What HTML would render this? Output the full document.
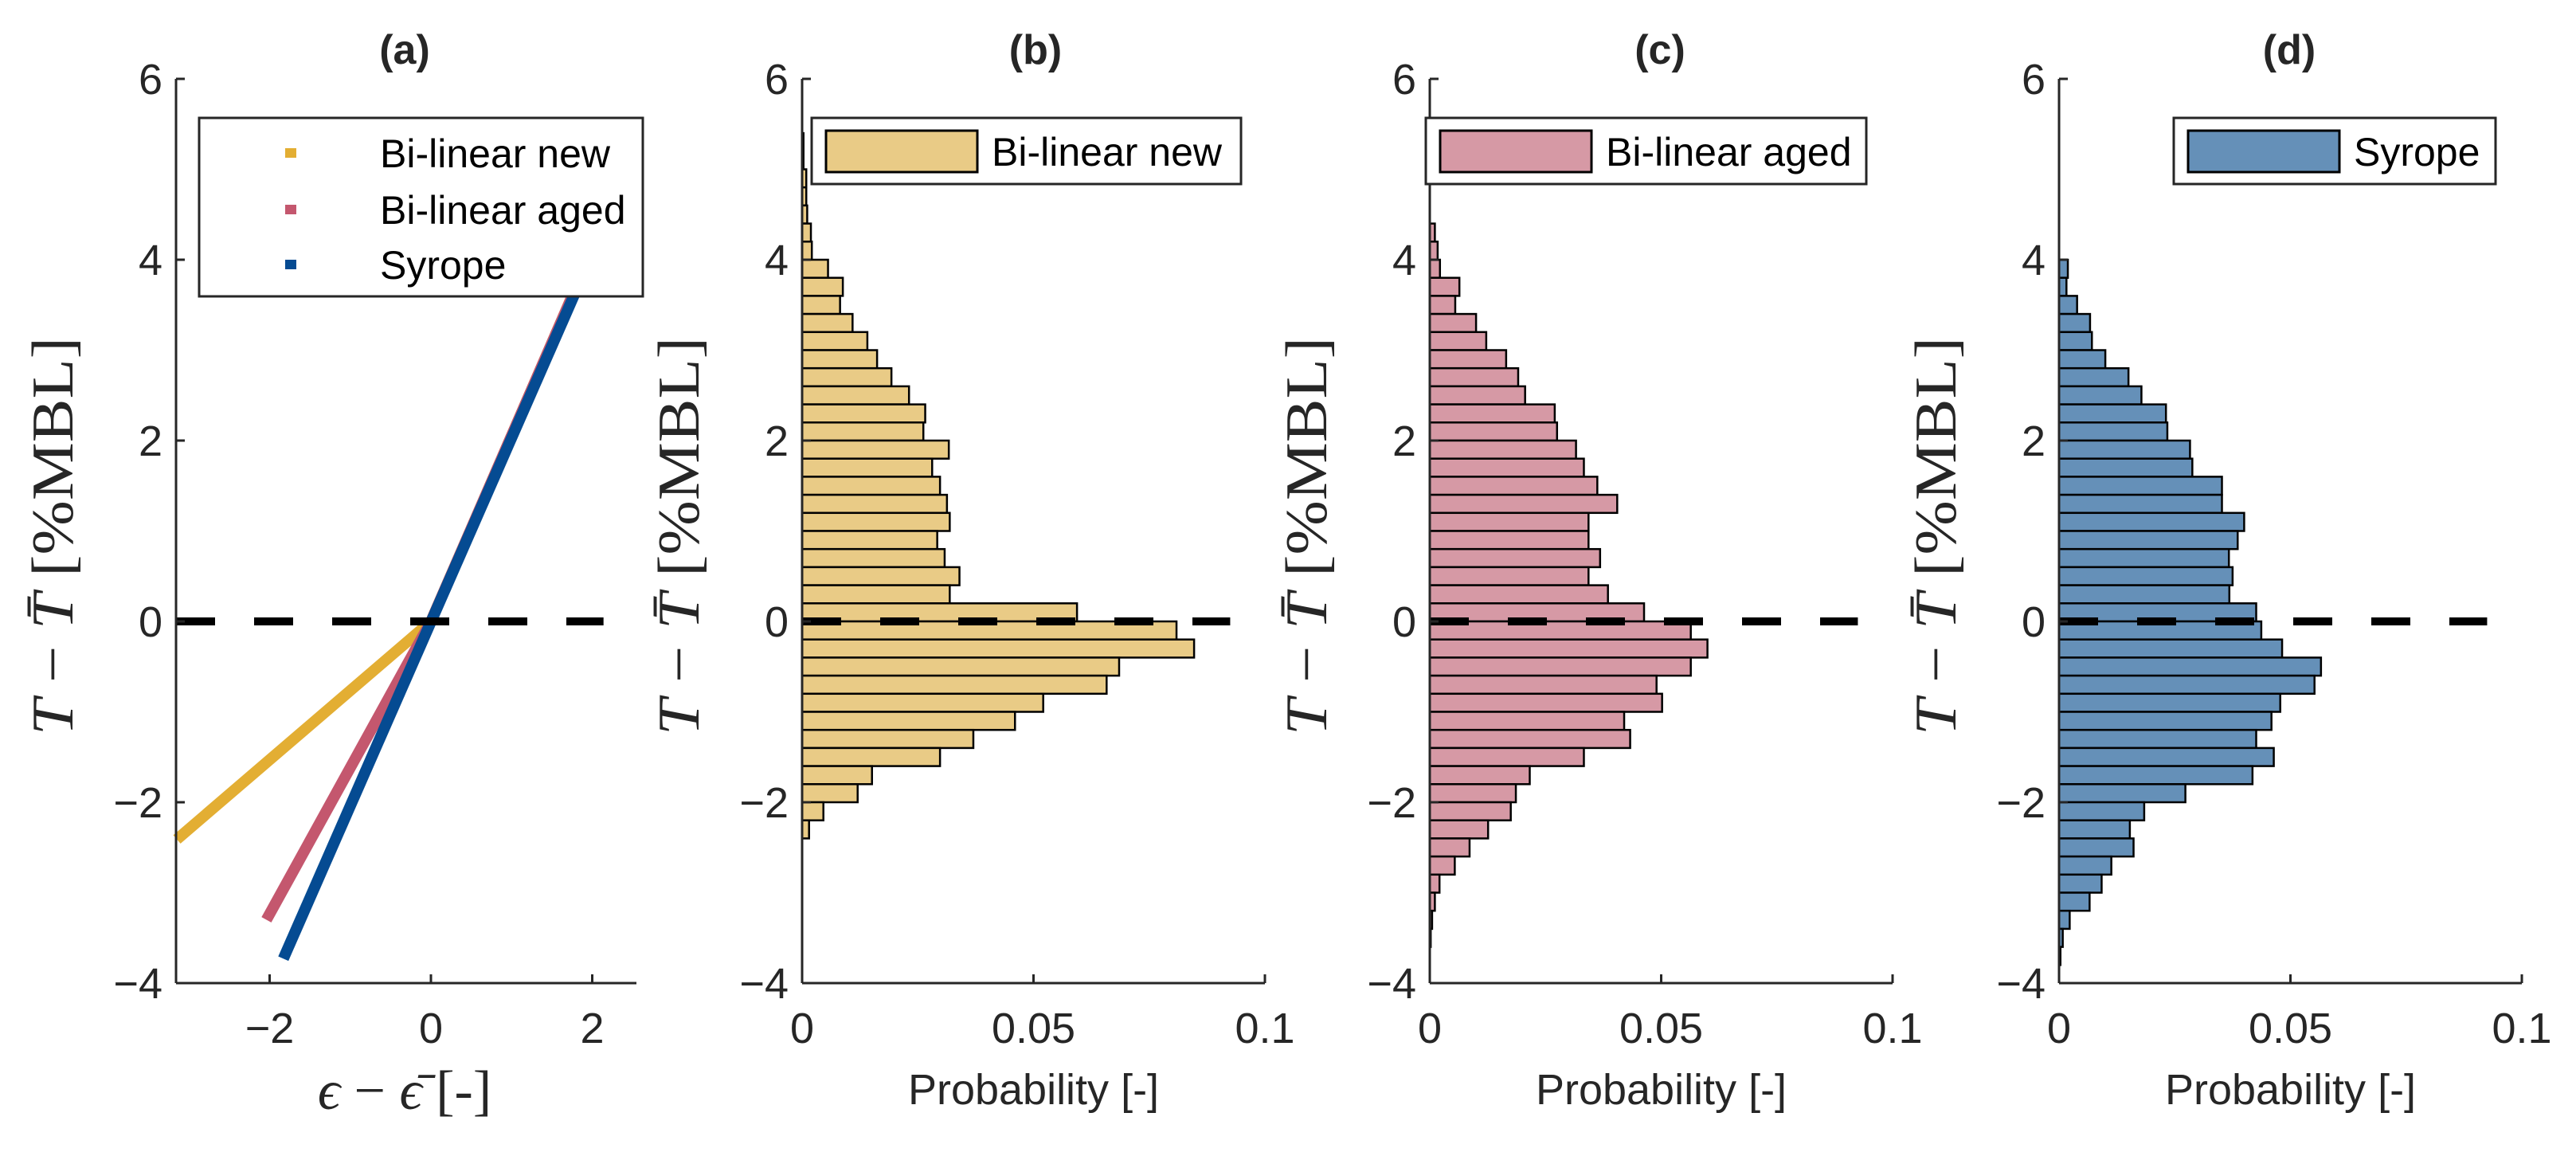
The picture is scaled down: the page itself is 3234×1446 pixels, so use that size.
<!DOCTYPE html>
<html><head><meta charset="utf-8"><title>Figure</title>
<style>
html,body{margin:0;padding:0;background:#fff;}
svg{display:block;}
text{font-family:"Liberation Sans",Arial,sans-serif;fill:#262626;}
</style></head>
<body>
<svg id="fig" width="3234" height="1446" viewBox="0 0 3234 1446" xmlns="http://www.w3.org/2000/svg">
<rect x="0" y="0" width="3234" height="1446" fill="#fff"/>
</svg>
<script>
// ---------- data ----------
const yTicks = [-4, -2, 0, 2, 4, 6];
const aXTicks = [-2, 0, 2];
const probTicks = [0, 0.05, 0.1];
const probTickLabels = ["0", "0.05", "0.1"];
const binWidth = 0.2;

// Panel (a) line series (x, y pairs)
const newX = [-3.15, 0, 1.85];
const newY = [-2.41, 0, 3.8];
const agedX = [-2.04, 0, 1.85];
const agedY = [-3.30, 0, 3.8];
const syropeX = [-1.83, 1.87];
const syropeY = [-3.73, 3.8];

// Histograms: upper bin edge of first bin, then probabilities going downward
const newTop = 5.4;
const newProb = [0.0003,0.0003,0.0009,0.0009,0.0011,0.0019,0.0021,0.0056,0.0088,0.0082,0.0109,0.0141,0.0162,0.0193,0.0231,0.0266,0.0262,0.0317,0.0281,0.0298,0.0313,0.0319,0.0292,0.0308,0.0340,0.0319,0.0594,0.0809,0.0847,0.0685,0.0658,0.0521,0.0460,0.0370,0.0298,0.0151,0.0120,0.0046,0.0015];
const agedTop = 4.4;
const agedProb = [0.0011,0.0017,0.0022,0.0064,0.0055,0.0100,0.0122,0.0165,0.0191,0.0206,0.0270,0.0275,0.0316,0.0333,0.0362,0.0405,0.0343,0.0343,0.0368,0.0343,0.0385,0.0463,0.0564,0.0600,0.0564,0.0490,0.0502,0.0420,0.0433,0.0333,0.0216,0.0186,0.0175,0.0126,0.0086,0.0054,0.0021,0.0011,0.0005,0.0002];
const syropeTop = 4.0;
const syropeProb = [0.0019,0.0016,0.0039,0.0067,0.0071,0.0100,0.0150,0.0178,0.0231,0.0234,0.0283,0.0288,0.0352,0.0352,0.0400,0.0386,0.0367,0.0375,0.0368,0.0426,0.0437,0.0482,0.0566,0.0552,0.0478,0.0459,0.0426,0.0464,0.0418,0.0273,0.0184,0.0153,0.0161,0.0113,0.0092,0.0066,0.0023,0.0008,0.0003];

// ---------- helpers ----------
const NS = "http://www.w3.org/2000/svg";
const svg = document.getElementById("fig");
function mk(tag, attrs, parent) {
  const e = document.createElementNS(NS, tag);
  for (const k in attrs) e.setAttribute(k, attrs[k]);
  (parent || svg).appendChild(e);
  return e;
}
const Y0 = 780, YS = 113.5;
const yS = v => Y0 - v * YS;
const AXB = yS(-4), AXT = yS(6);

function yAxis(g, left) {
  const ax = mk("line", {x1:left, y1:AXT, x2:left, y2:AXB, stroke:"#262626", "stroke-width":3}, g);
  
  
  yTicks.forEach(t => {
    const tk = mk("line", {x1:left, y1:yS(t), x2:left+11, y2:yS(t), stroke:"#262626", "stroke-width":3}, g);
    
    
    const lb = mk("text", {x:left-17, y:yS(t)+19, "font-size":54, "text-anchor":"end"}, g);
    lb.textContent = (t < 0 ? "\u2212" + Math.abs(t) : String(t));
    
    
  });
  const yl = mk("text", {x:0, y:0, "font-size":74, "text-anchor":"middle",
     transform:"translate(" + (left-130) + ",673) rotate(-90)", textLength:500, lengthAdjust:"spacingAndGlyphs",
     style:"font-family:'Liberation Serif','DejaVu Serif',serif;fill:#262626"}, g);
  yl.innerHTML = '<tspan font-style="italic">T</tspan> \u2212 <tspan font-style="italic">T\u0304</tspan> [%MBL]';
  
  
}
function xAxis(g, left, right, ticks, labels, xs) {
  const ax = mk("line", {x1:left, y1:AXB, x2:right, y2:AXB, stroke:"#262626", "stroke-width":3}, g);
  
  
  ticks.forEach((t, i) => {
    const tk = mk("line", {x1:xs(t), y1:AXB, x2:xs(t), y2:AXB-11, stroke:"#262626", "stroke-width":3}, g);
    
    
    const lb = mk("text", {x:xs(t), y:1309, "font-size":54, "text-anchor":"middle"}, g);
    lb.textContent = labels[i];
    
    
  });
}
function title(g, x, s) {
  const t = mk("text", {x:x, y:80, "font-size":52, "font-weight":"bold", "text-anchor":"middle"}, g);
  t.textContent = s;
  
  
}

// ---------- panel (a) ----------
const ga = mk("g", {});


const aL = 221, aR = 799;
const xA = v => 541 + v * 101.25;
function series(xsArr, ysArr, color, name) {
  const pts = xsArr.map((x, i) => xA(x) + "," + yS(ysArr[i])).join(" ");
  const p = mk("polyline", {points:pts, fill:"none", stroke:color, "stroke-width":14, "stroke-linejoin":"round"}, ga);
  
  
}
series(newX, newY, "#E3AE33", "line-bilinear-new");
series(agedX, agedY, "#C4576E", "line-bilinear-aged");
series(syropeX, syropeY, "#054B92", "line-syrope");
const da = mk("line", {x1:aL, y1:yS(0), x2:xA(2.14), y2:yS(0), stroke:"#000", "stroke-width":10, "stroke-dasharray":"49 49"}, ga);


yAxis(ga, aL);
xAxis(ga, aL, aR, aXTicks, aXTicks.map(t => t < 0 ? "\u2212" + Math.abs(t) : String(t)), xA);
title(ga, 508, "(a)");
const xla = mk("text", {x:508, y:1392, "font-size":70, "text-anchor":"middle",
  style:"font-family:'Liberation Serif','DejaVu Serif',serif;fill:#262626"}, ga);
xla.innerHTML = '<tspan font-style="italic">\u03F5</tspan> \u2212 <tspan font-style="italic">\u03F5\u0304</tspan> [-]';


// legend a
const lga = mk("g", {}, ga);


const lbox = mk("rect", {x:250, y:148, width:557, height:224, fill:"#fff", stroke:"#262626", "stroke-width":3}, lga);


[["Bi-linear new","#E3AE33",192],["Bi-linear aged","#C4576E",263],["Syrope","#054B92",332]].forEach(e => {
  const m = mk("rect", {x:358, y:e[2]-6, width:14, height:12, fill:e[1]}, lga);
  
  
  const t = mk("text", {x:477, y:e[2]+18, "font-size":50, style:"fill:#000"}, lga);
  t.textContent = e[0];
  
  
});

// ---------- histogram panels ----------
function histPanel(name, left, top, probs, fill, ttl, ttlX, legX, legW, legText) {
  const g = mk("g", {});
  
  
  const xs = v => left + v * 5810;
  probs.forEach((p, i) => {
    const hi = top - i * binWidth, lo = hi - binWidth;
    const r = mk("rect", {x:left, y:yS(hi), width:xs(p) - left, height:yS(lo) - yS(hi), fill:fill, stroke:"#000", "stroke-width":2.5}, g);
    
    
  });
  const d = mk("line", {x1:left, y1:yS(0), x2:xs(0.0925), y2:yS(0), stroke:"#000", "stroke-width":10, "stroke-dasharray":"49 49"}, g);
  
  
  yAxis(g, left);
  xAxis(g, left, xs(0.1), probTicks, probTickLabels, xs);
  title(g, ttlX, ttl);
  const xl = mk("text", {x:xs(0.05), y:1386, "font-size":54, "text-anchor":"middle"}, g);
  xl.textContent = "Probability [-]";
  
  
  const lg = mk("g", {}, g);
  
  
  const b = mk("rect", {x:legX, y:148, width:legW, height:83, fill:"#fff", stroke:"#262626", "stroke-width":3}, lg);
  
  
  const pt = mk("rect", {x:legX+18, y:164, width:190, height:52, fill:fill, stroke:"#000", "stroke-width":3}, lg);
  
  
  const t = mk("text", {x:legX+226, y:208, "font-size":50, style:"fill:#000"}, lg);
  t.textContent = legText;
  
  
}
histPanel("panel-b", 1007, newTop, newProb, "#E9CB86", "(b)", 1300, 1019, 539, "Bi-linear new");
histPanel("panel-c", 1795, agedTop, agedProb, "#D699A5", "(c)", 2084, 1790, 553, "Bi-linear aged");
histPanel("panel-d", 2585, syropeTop, syropeProb, "#6590B8", "(d)", 2874, 2729, 404, "Syrope");
</script>
</body></html>
